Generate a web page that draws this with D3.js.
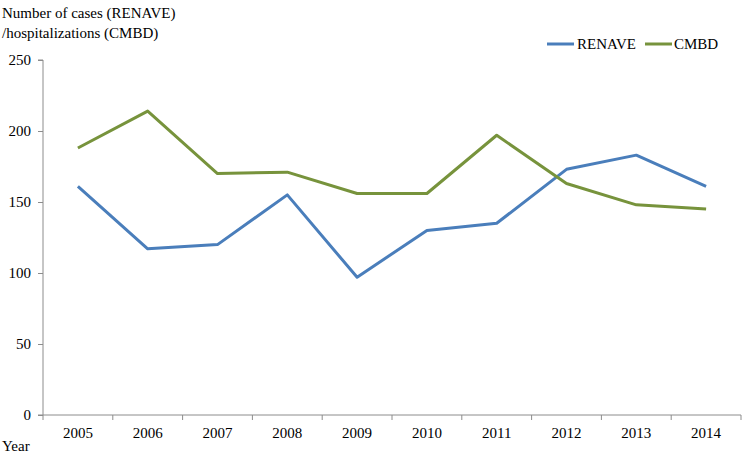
<!DOCTYPE html>
<html><head><meta charset="utf-8">
<script src="https://cdn.jsdelivr.net/npm/d3@7"></script>
<style>body{margin:0;background:#fff}svg{display:block;font-family:"Liberation Serif","Times New Roman",serif}</style>
</head><body><svg id="c" width="744" height="454"></svg>
<script>
const years = ["2005","2006","2007","2008","2009","2010","2011","2012","2013","2014"];
const renave = [161,117,120,155,97,130,135,173,183,161];
const cmbd = [188,214,170,171,156,156,197,163,148,145];
const yTicks = [0,50,100,150,200,250];
const seriesNames = ["RENAVE","CMBD"];
const colors = ["#4a7ebb","#77933c"];

const svg = d3.select("#c");
const m = {l:43, r:741, t:60, b:415};
const x = d3.scaleBand().domain(years).range([m.l, m.r]);
const y = d3.scaleLinear().domain([0,250]).range([m.b, m.t]);
const axisColor = "#8c8c8c";

const ya = svg.append("g").attr("transform",`translate(${m.l},0)`)
  .call(d3.axisLeft(y).tickValues(yTicks).tickSize(5).tickPadding(7));
ya.select(".domain").attr("stroke",axisColor).attr("d",`M-5,${m.t}H0V${m.b}H-5`);
ya.selectAll(".tick line").attr("stroke",axisColor);
ya.selectAll("text").attr("font-size",15).attr("fill","#000").attr("font-family","Liberation Serif");

const xa = svg.append("g").attr("transform",`translate(0,${m.b})`)
  .call(d3.axisBottom(x).tickSize(0).tickPadding(12));
xa.select(".domain").attr("stroke",axisColor).attr("d",`M${m.l},0H${m.r}`);
xa.selectAll("text").attr("font-size",15).attr("fill","#000").attr("font-family","Liberation Serif");
const bounds = years.map(d=>x(d)).concat([m.r]);
xa.selectAll(".bt").data(bounds).enter().append("line")
  .attr("x1",d=>d).attr("x2",d=>d).attr("y1",0).attr("y2",5).attr("stroke",axisColor);

const line = d3.line().x((d,i)=>x(years[i])+x.bandwidth()/2).y(d=>y(d));
[renave,cmbd].forEach((s,k)=>{
  svg.append("path").attr("d",line(s)).attr("fill","none")
    .attr("stroke",colors[k]).attr("stroke-width",3).attr("stroke-linejoin","round");
});

svg.append("text").attr("x",2).attr("y",18).attr("font-size",15).text("Number of cases (RENAVE)");
svg.append("text").attr("x",2).attr("y",38).attr("font-size",15).text("/hospitalizations (CMBD)");
svg.append("text").attr("x",2).attr("y",451).attr("font-size",15).text("Year");

const lg = [{x:547,tx:577},{x:645,tx:674}];
seriesNames.forEach((n,k)=>{
  svg.append("line").attr("x1",lg[k].x).attr("x2",lg[k].x+27).attr("y1",44).attr("y2",44)
    .attr("stroke",colors[k]).attr("stroke-width",3);
  svg.append("text").attr("x",lg[k].tx).attr("y",49).attr("font-size",15).text(n);
});
</script></body></html>
